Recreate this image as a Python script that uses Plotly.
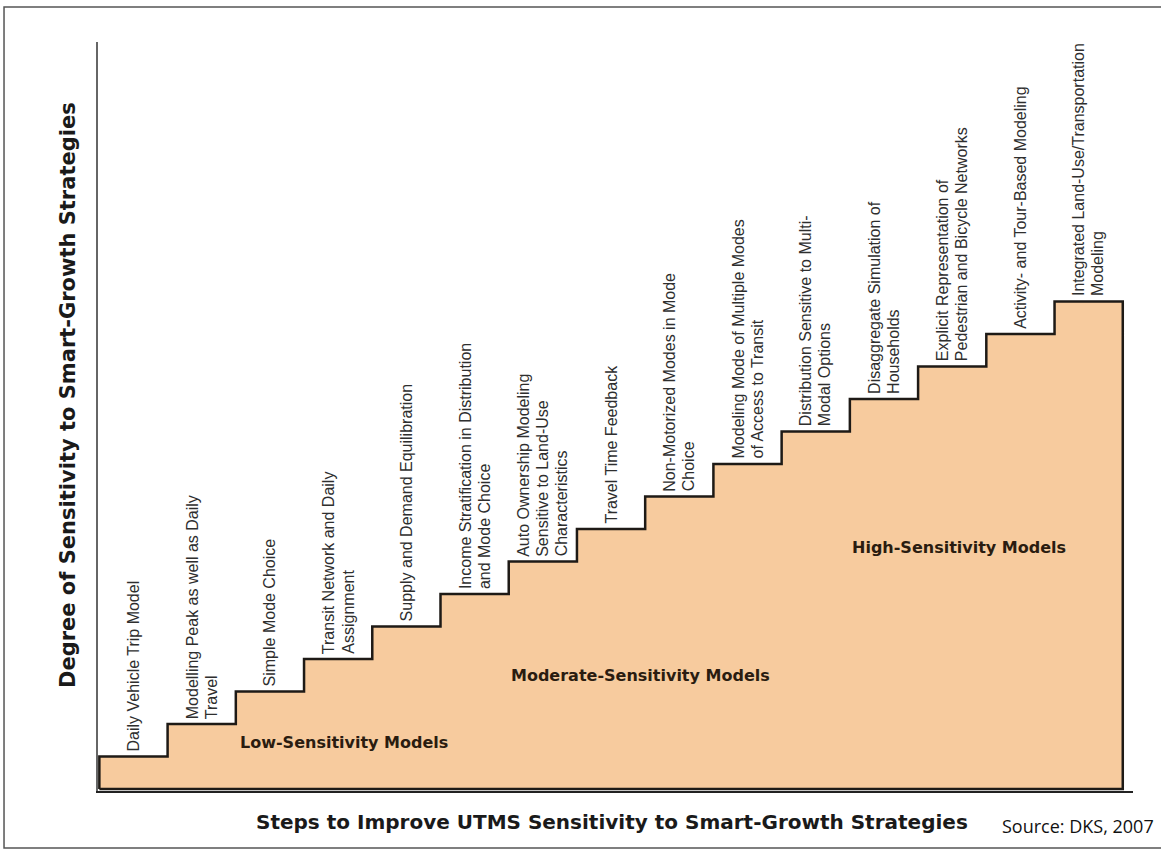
import plotly.graph_objects as go

# ---- data ----
step_index = list(range(1, 16))
sensitivity = [1, 2, 3, 4, 5, 6, 7, 8, 9, 10, 11, 12, 13, 14, 15]
step_labels = [
    ["Daily Vehicle Trip Model"],
    ["Modelling Peak as well as Daily", "Travel"],
    ["Simple Mode Choice"],
    ["Transit Network and Daily", "Assignment"],
    ["Supply and Demand Equilibration"],
    ["Income Stratification in Distribution", "and Mode Choice"],
    ["Auto Ownership Modeling", "Sensitive to Land-Use", "Characteristics"],
    ["Travel Time Feedback"],
    ["Non-Motorized Modes in Mode", "Choice"],
    ["Modeling Mode of Multiple Modes", "of Access to Transit"],
    ["Distribution Sensitive to Multi-", "Modal Options"],
    ["Disaggregate Simulation of", "Households"],
    ["Explicit Representation of", "Pedestrian and Bicycle Networks"],
    ["Activity- and Tour-Based Modeling"],
    ["Integrated Land-Use/Transportation", "Modeling"],
]
group_names = ["Low-Sensitivity Models", "Moderate-Sensitivity Models", "High-Sensitivity Models"]
group_pos = [(3.58, 1.42), (7.93, 3.48), (12.6, 7.42)]

x_title = "Steps to Improve UTMS Sensitivity to Smart-Growth Strategies"
y_title = "Degree of Sensitivity to Smart-Growth Strategies"
source = "Source: DKS, 2007"

FILL = "#F7CB9E"
LINE = "#1e1a16"

# staircase outline built from the step values
n = len(sensitivity)
xs = [0] + [i for i in range(n)] + [n, n, 0]
ys = [0] + sensitivity + [sensitivity[-1], 0, 0]

fig = go.Figure()
fig.add_trace(go.Scatter(
    x=xs, y=ys, mode="lines", line=dict(shape="hv", color=LINE, width=2.5),
    fill="toself", fillcolor=FILL, hoverinfo="skip", showlegend=False))

annotations = []
LINE_GAP = 19
for i, (h, lines) in enumerate(zip(sensitivity, step_labels)):
    k = len(lines)
    for j, t in enumerate(lines):
        annotations.append(dict(
            x=i + 0.5, y=h, xref="x", yref="y", text=t, showarrow=False,
            textangle=-90, xanchor="center", yanchor="bottom",
            xshift=(j - (k - 1) / 2) * LINE_GAP, yshift=3,
            font=dict(family="Liberation Sans, Arial", size=16, color="#2e2e2e")))

for name, (gx, gy) in zip(group_names, group_pos):
    annotations.append(dict(
        x=gx, y=gy, xref="x", yref="y", text=name, showarrow=False,
        xanchor="center", yanchor="middle",
        font=dict(family="DejaVu Sans", size=16, color="#2a1c10", weight="bold")))

annotations.append(dict(
    x=-0.029, y=0.5287, xref="paper", yref="paper", text=y_title, showarrow=False,
    textangle=-90, xanchor="center", yanchor="middle",
    font=dict(family="DejaVu Sans", size=21, color="#1a1a1a", weight="bold")))
annotations.append(dict(
    x=0.4966, y=-0.0414, xref="paper", yref="paper", text=x_title, showarrow=False,
    xanchor="center", yanchor="middle",
    font=dict(family="DejaVu Sans", size=20, color="#1a1a1a", weight="bold")))
annotations.append(dict(
    x=0.9469, y=-0.0467, xref="paper", yref="paper", text=source, showarrow=False,
    xanchor="center", yanchor="middle",
    font=dict(family="Open Sans", size=18, color="#111111")))

fig.update_layout(
    width=1161, height=850,
    margin=dict(l=98, r=28, t=42, b=59),
    paper_bgcolor="white", plot_bgcolor="white",
    annotations=annotations,
    shapes=[dict(type="rect", xref="paper", yref="paper",
                 x0=-0.0908, x1=1.031, y0=-0.0761, y1=1.0467,
                 line=dict(color="#555555", width=1.5), layer="below")],
    xaxis=dict(range=[-0.02, 15.15], showgrid=False, zeroline=False,
               showticklabels=False, ticks="", showline=True,
               linecolor="#222222", linewidth=2),
    yaxis=dict(range=[-0.06, 22.98], showgrid=False, zeroline=False,
               showticklabels=False, ticks="", showline=True,
               linecolor="#666666", linewidth=2),
)

fig.write_html("out.html", config={"displayModeBar": False},
               post_script="document.body.style.margin='0';")
